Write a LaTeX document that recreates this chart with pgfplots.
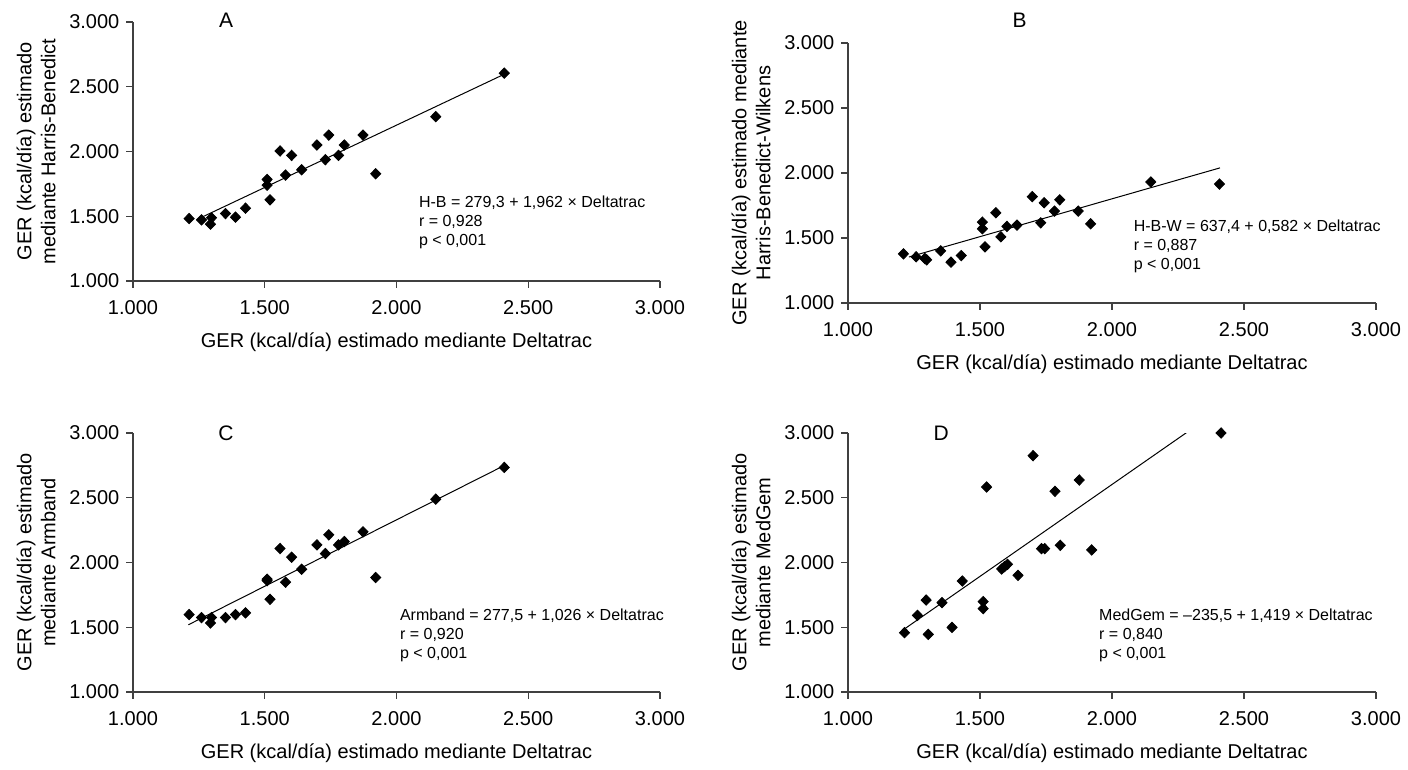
\documentclass[border=0pt]{standalone}
\usepackage{fontspec}
\setmainfont{Liberation Sans}
\usepackage{pgfplots}
\pgfplotsset{compat=1.18}

\pgfplotsset{
  panel/.style={
    scale only axis, width=263.5pt, height=129.5pt,
    xmin=1000, xmax=3000, ymin=1000, ymax=3000,
    axis lines=left, axis line style={-, black!75, line width=0.6pt},
    xtick={1000,1500,2000,2500,3000}, ytick={1000,1500,2000,2500,3000},
    xticklabels={1.000,1.500,2.000,2.500,3.000},
    yticklabels={1.000,1.500,2.000,2.500,3.000},
    tick align=outside, major tick length=3.3pt,
    tick style={black!75, line width=0.6pt},
    ticklabel style={font=\fontsize{10}{12}\selectfont},
    xticklabel style={yshift=-3pt},
    label style={font=\fontsize{10}{12}\selectfont},
    xlabel={GER (kcal/día) estimado mediante Deltatrac},
    xlabel style={yshift=-2pt},
    ylabel style={align=center},
    clip mode=individual,
    /pgf/number format/assume math mode=true,
  },
  pts/.style={only marks, mark=diamond*, mark size=2.6pt,
    mark options={xscale=1.3, fill=black, draw=black}},
  fit/.style={no marks, black, line width=0.5pt},
}
\tikzset{
  note/.style={anchor=west, align=left, inner sep=0pt,
    font=\fontsize{8}{9.5}\selectfont},
  letter/.style={font=\fontsize{10.5}{12}\selectfont},
}

\begin{document}
\begin{tikzpicture}
\useasboundingbox (0,0) rectangle (704pt,-385pt);

% A
\begin{axis}[panel, at={(66.5pt,-140.5pt)},
  ylabel={GER (kcal/día) estimado\\mediante Harris-Benedict}]
\addplot[pts] coordinates {
(1213,1482)(1260,1472)(1294,1439)(1298,1488)(1351,1521)(1389,1493)
(1427,1562)(1509,1784)(1509,1740)(1520,1627)(1558,2004)(1579,1818)
(1602,1970)(1640,1859)(1698,2050)(1730,1937)(1743,2127)(1780,1970)
(1802,2050)(1873,2127)(1921,1828)(2149,2269)(2409,2605)
};
\addplot[fit] coordinates {(1251,1482.8)(2409,2596.8)};
\node[letter] at (axis cs:1353,3013) {A};
\node[note] at (axis cs:2084,1452) {H-B = 279,3 + 1,962 × Deltatrac\\r = 0,928\\p < 0,001};
\end{axis}

% B
\begin{axis}[panel, at={(424pt,-151.5pt)}, width=264pt, height=130pt,
  ylabel={GER (kcal/día) estimado mediante\\Harris-Benedict-Wilkens}]
\addplot[pts] coordinates {
(1210,1378)(1258,1355)(1291,1342)(1298,1332)(1351,1401)(1390,1314)
(1429,1365)(1509,1622)(1509,1571)(1519,1432)(1560,1694)(1579,1509)
(1602,1589)(1640,1599)(1698,1818)(1730,1617)(1743,1771)(1782,1707)
(1802,1794)(1872,1707)(1919,1609)(2147,1931)(2407,1915)
};
\addplot[fit] coordinates {(1231,1353.8)(2409,2039.4)};
\node[letter] at (axis cs:1650,3177) {B};
\node[note] at (axis cs:2081,1437) {H-B-W = 637,4 + 0,582 × Deltatrac\\r = 0,887\\p < 0,001};
\end{axis}

% C
\begin{axis}[panel, at={(66.5pt,-346pt)},
  ylabel={GER (kcal/día) estimado\\mediante Armband}]
\addplot[pts] coordinates {
(1213,1598)(1260,1575)(1294,1533)(1298,1575)(1351,1575)(1389,1598)
(1427,1611)(1509,1871)(1509,1860)(1520,1716)(1558,2108)(1579,1848)
(1602,2041)(1640,1948)(1698,2136)(1730,2069)(1743,2214)(1780,2136)
(1802,2162)(1873,2237)(1921,1884)(2149,2489)(2409,2734)
};
\addplot[fit] coordinates {(1210,1519)(2409,2749)};
\node[letter] at (axis cs:1353,3000) {C};
\node[note] at (axis cs:2012,1438) {Armband = 277,5 + 1,026 × Deltatrac\\r = 0,920\\p < 0,001};
\end{axis}

% D
\begin{axis}[panel, at={(424pt,-346pt)}, width=264pt,
  ylabel={GER (kcal/día) estimado\\mediante MedGem}]
\addplot[pts] coordinates {
(1214,1458)(1263,1592)(1296,1710)(1304,1445)(1356,1690)(1394,1499)
(1433,1857)(1512,1698)(1512,1644)(1525,2583)(1582,1950)(1593,1968)
(1604,1986)(1644,1901)(1701,2825)(1733,2107)(1745,2107)(1784,2550)
(1804,2133)(1876,2637)(1923,2097)(2413,3000)
};
\addplot[fit] coordinates {(1208,1478.6)(2409,3182.9)};
\node[letter] at (axis cs:1353,3000) {D};
\node[note] at (axis cs:1950,1437) {MedGem = –235,5 + 1,419 × Deltatrac\\r = 0,840\\p < 0,001};
\end{axis}
\end{tikzpicture}
\end{document}
